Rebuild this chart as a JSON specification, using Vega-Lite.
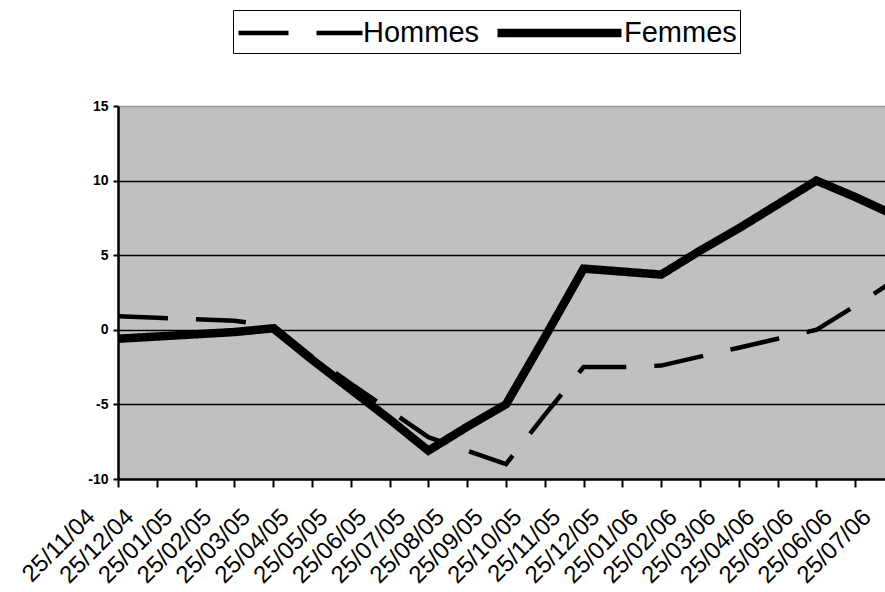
{
  "$schema": "https://vega.github.io/schema/vega-lite/v6.json",
  "width": 767,
  "height": 373,
  "autosize": "none",
  "padding": {"left": 118, "top": 106, "right": 0, "bottom": 113},
  "background": "white",
  "config": {"view": {"fill": "#c0c0c0", "stroke": null}},
  "data": {"values": [
    {"date": "25/11/04", "serie": "Hommes", "value": 0.9},
    {"date": "25/12/04", "serie": "Hommes", "value": 0.8},
    {"date": "25/01/05", "serie": "Hommes", "value": 0.7},
    {"date": "25/02/05", "serie": "Hommes", "value": 0.6},
    {"date": "25/03/05", "serie": "Hommes", "value": 0.3},
    {"date": "25/04/05", "serie": "Hommes", "value": -1.8},
    {"date": "25/05/05", "serie": "Hommes", "value": -3.6},
    {"date": "25/06/05", "serie": "Hommes", "value": -5.4},
    {"date": "25/07/05", "serie": "Hommes", "value": -7.2},
    {"date": "25/08/05", "serie": "Hommes", "value": -8.1},
    {"date": "25/09/05", "serie": "Hommes", "value": -9.0},
    {"date": "25/10/05", "serie": "Hommes", "value": -5.7},
    {"date": "25/11/05", "serie": "Hommes", "value": -2.5},
    {"date": "25/12/05", "serie": "Hommes", "value": -2.5},
    {"date": "25/01/06", "serie": "Hommes", "value": -2.4},
    {"date": "25/02/06", "serie": "Hommes", "value": -1.8},
    {"date": "25/03/06", "serie": "Hommes", "value": -1.2},
    {"date": "25/04/06", "serie": "Hommes", "value": -0.6},
    {"date": "25/05/06", "serie": "Hommes", "value": 0.0},
    {"date": "25/06/06", "serie": "Hommes", "value": 1.6},
    {"date": "25/07/06", "serie": "Hommes", "value": 3.3},
    {"date": "25/11/04", "serie": "Femmes", "value": -0.6},
    {"date": "25/12/04", "serie": "Femmes", "value": -0.45},
    {"date": "25/01/05", "serie": "Femmes", "value": -0.3},
    {"date": "25/02/05", "serie": "Femmes", "value": -0.15},
    {"date": "25/03/05", "serie": "Femmes", "value": 0.1},
    {"date": "25/04/05", "serie": "Femmes", "value": -2.0},
    {"date": "25/05/05", "serie": "Femmes", "value": -4.0},
    {"date": "25/06/05", "serie": "Femmes", "value": -6.0},
    {"date": "25/07/05", "serie": "Femmes", "value": -8.1},
    {"date": "25/08/05", "serie": "Femmes", "value": -6.5},
    {"date": "25/09/05", "serie": "Femmes", "value": -5.0},
    {"date": "25/10/05", "serie": "Femmes", "value": -0.5},
    {"date": "25/11/05", "serie": "Femmes", "value": 4.1},
    {"date": "25/12/05", "serie": "Femmes", "value": 3.9},
    {"date": "25/01/06", "serie": "Femmes", "value": 3.7},
    {"date": "25/02/06", "serie": "Femmes", "value": 5.3},
    {"date": "25/03/06", "serie": "Femmes", "value": 6.8},
    {"date": "25/04/06", "serie": "Femmes", "value": 8.4},
    {"date": "25/05/06", "serie": "Femmes", "value": 10.0},
    {"date": "25/06/06", "serie": "Femmes", "value": 8.9},
    {"date": "25/07/06", "serie": "Femmes", "value": 7.7}
  ]},
  "mark": {"type": "line", "clip": true, "strokeCap": "butt", "strokeJoin": "miter"},
  "encoding": {
    "x": {
      "field": "date", "type": "ordinal", "sort": null,
      "scale": {"type": "point", "range": [0, 776], "padding": 0},
      "axis": {
        "title": null, "labelAngle": -45, "labelAlign": "right", "labelBaseline": "middle",
        "labelFontSize": 24, "labelFont": "Liberation Sans", "labelColor": "black",
        "labelPadding": 26, "labelOffset": -27, "labelOverlap": false, "labelBound": false,
        "domainColor": "black", "domainWidth": 2.5,
        "tickColor": "black", "tickWidth": 2, "tickSize": 8, "grid": false
      }
    },
    "y": {
      "field": "value", "type": "quantitative",
      "scale": {"domain": [-10, 15], "nice": false},
      "axis": {
        "title": null, "values": [-10, -5, 0, 5, 10, 15],
        "labelExpr": "toString(datum.value)",
        "labelFontSize": 14, "labelFontWeight": "bold", "labelFont": "Liberation Sans", "labelColor": "black",
        "labelPadding": 5,
        "domainColor": "black", "domainWidth": 2.5,
        "tickColor": "black", "tickWidth": 2, "tickSize": 5,
        "grid": true, "gridWidth": 1.5,
        "gridColor": {"condition": {"test": "datum.value === 15 || datum.value === -10", "value": "#9a9a9a"}, "value": "black"}
      }
    },
    "color": {
      "field": "serie", "type": "nominal",
      "scale": {"domain": ["Hommes", "Femmes"], "range": ["black", "black"]},
      "legend": {
        "title": null, "orient": "none", "legendX": 115, "legendY": -96,
        "direction": "horizontal", "symbolType": "M-1,0H7", "symbolSize": 961,
        "labelFontSize": 29, "labelFont": "Liberation Sans", "labelColor": "black",
        "strokeColor": "black", "fillColor": "white", "padding": 3,
        "columnPadding": 0, "labelOffset": 91, "symbolStrokeColor": "black"
      }
    },
    "strokeDash": {
      "field": "serie", "type": "nominal",
      "scale": {"domain": ["Hommes", "Femmes"], "range": [[50, 28], [1, 0]]}
    },
    "strokeWidth": {
      "field": "serie", "type": "nominal",
      "scale": {"type": "ordinal", "domain": ["Hommes", "Femmes"], "range": [4.5, 8.5]}
    }
  }
}
